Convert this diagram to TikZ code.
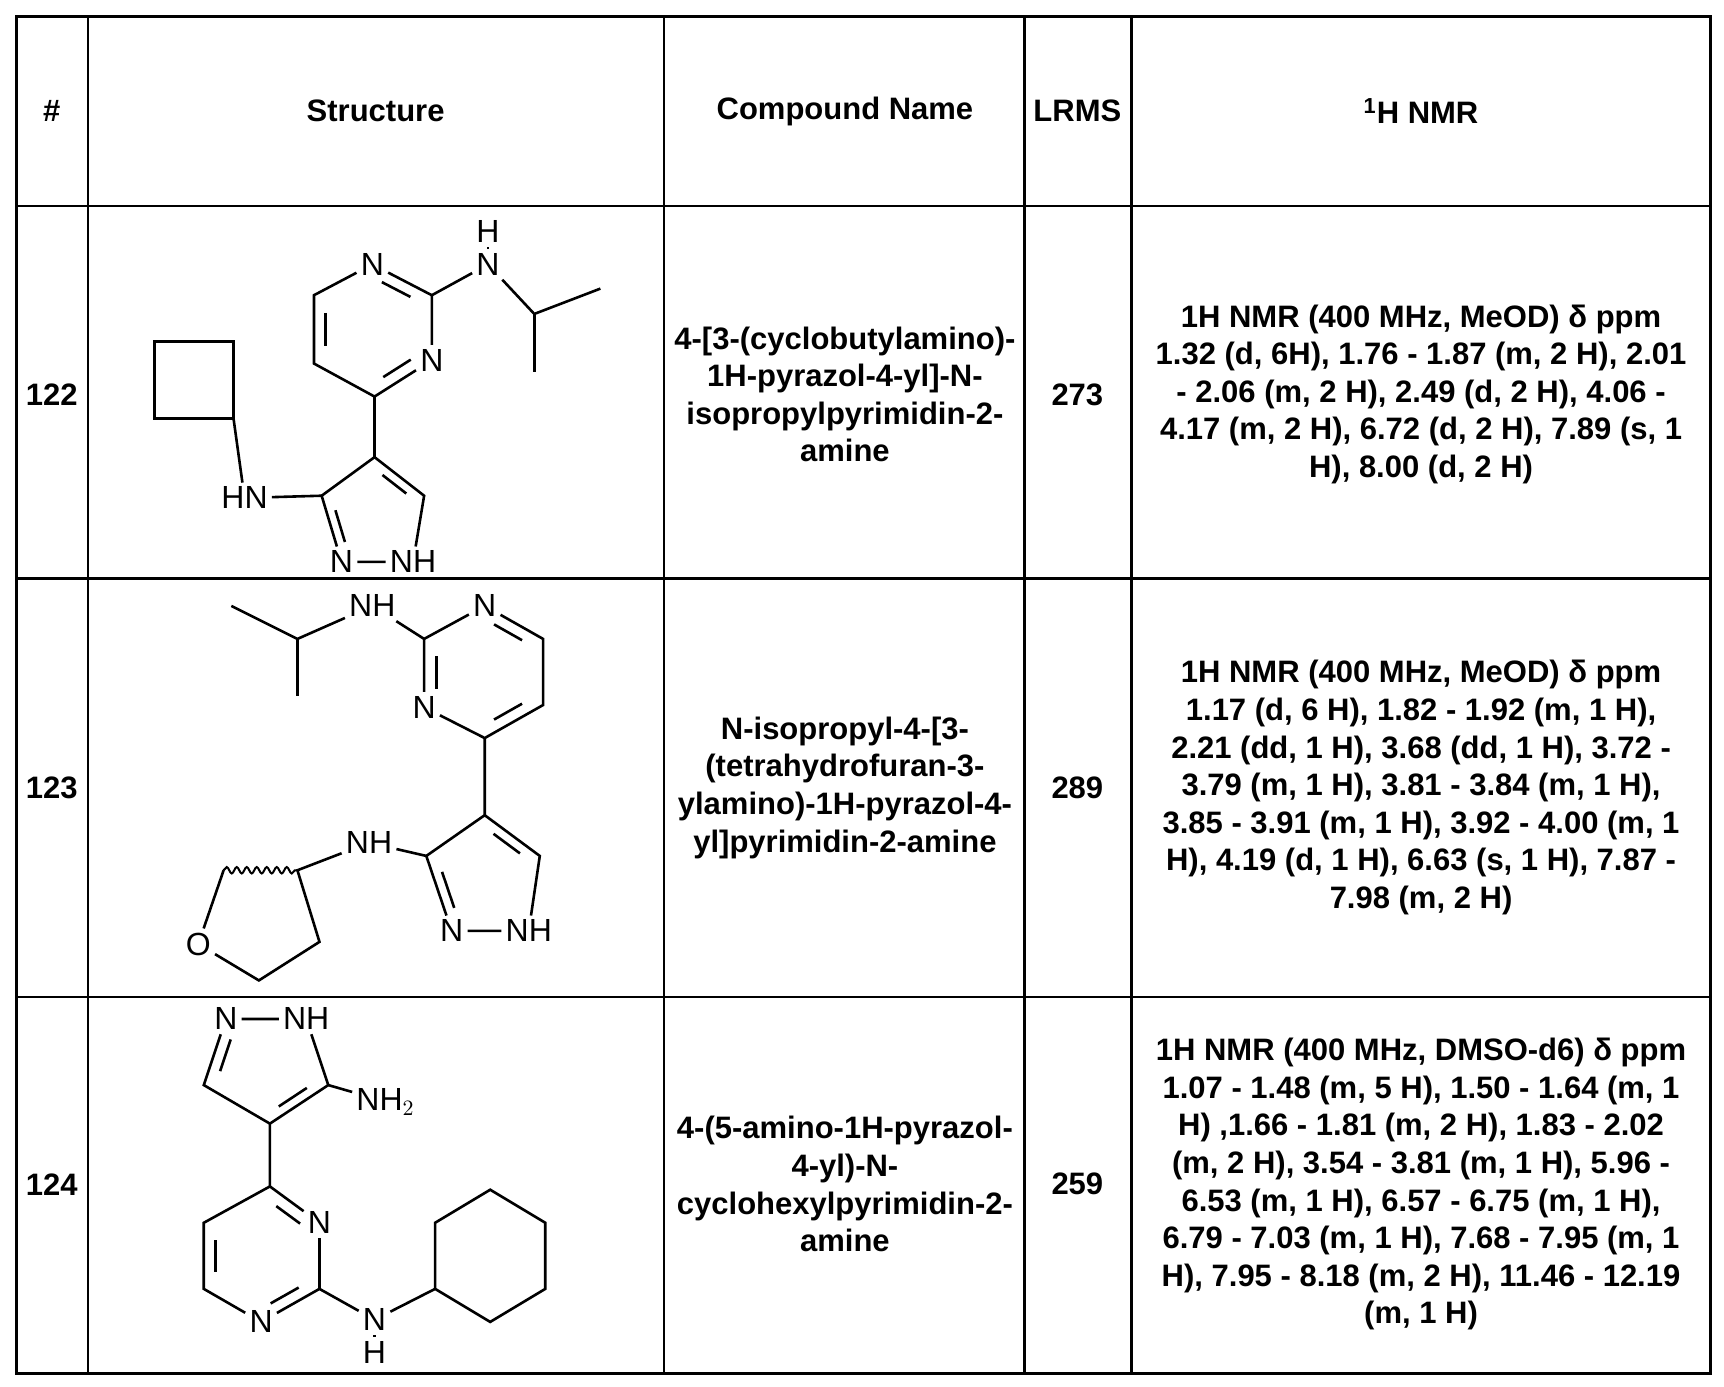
\documentclass[tikz,border=0pt]{standalone}
\usepackage{fontspec}
\setmainfont{Liberation Sans}
\usetikzlibrary{calc,decorations.pathmorphing}
\newcommand{\dbl}[3]{\draw ($(#1)!.2!(#2)!.2!(#3)$) -- ($(#2)!.2!(#1)!.2!(#3)$);}
\begin{document}
\begin{tikzpicture}[x=0.5508pt,y=-0.5508pt,line width=1.3pt,
 atom/.style={inner sep=1.5pt,font=\fontsize{16}{16}\selectfont},
 cell/.style={align=center,font=\bfseries\fontsize{15.5}{18.8}\selectfont,inner sep=0pt},
 hdr/.style={font=\bfseries\fontsize{15.5}{18}\selectfont}]
\useasboundingbox (0,0) rectangle (1565,1259);
% table
\draw[line width=1.6pt] (15,15) rectangle (1553,1247);
\foreach \x in {80,603,930,1027} \draw[line width=1.2pt] (\x,15) -- (\x,1247);
\foreach \y in {187,525,905} \draw[line width=1.2pt] (15,\y) -- (1553,\y);
\node[hdr] (h1) at (47,101) {\#};
\node[hdr] (h2) at (341,101) {Structure};
\node[hdr] (h3) at (767,101) {Compound Name};
\node[hdr] (h4) at (978,101) {LRMS};
\node[hdr] (h5) at (1290,101) {$^{\mathbf 1}$H NMR};
% row 122
\node[cell] (n1) at (47,358) {122};
\node[cell] (c1) at (767,358) {4-[3-(cyclobutylamino)-\\1H-pyrazol-4-yl]-N-\\isopropylpyrimidin-2-\\amine};
\node[cell] (l1) at (978,358) {273};
\node[cell] (r1) at (1290,358) {1H NMR (400 MHz, MeOD) δ ppm\\1.32 (d, 6H), 1.76 - 1.87 (m, 2 H), 2.01\\- 2.06 (m, 2 H), 2.49 (d, 2 H), 4.06 -\\4.17 (m, 2 H), 6.72 (d, 2 H), 7.89 (s, 1\\H), 8.00 (d, 2 H)};
% structure 122
\node[atom] (aN1) at (338,240) {N};
\coordinate (aC6) at (285,268);
\coordinate (aC5) at (285,330);
\coordinate (aC4) at (340,360);
\node[atom] (aN3) at (392,327) {N};
\coordinate (aC2) at (392,268);
\coordinate (actr) at (338,298);
\node[atom] (aNH) at (443,240) {N};
\node[atom] (aH) at (443,210) {H};
\coordinate (aCH) at (485,285);
\coordinate (aMe1) at (545,262);
\coordinate (aMe2) at (485,338);
\draw (aN1) -- (aC6) -- (aC5) -- (aC4) -- (aN3) -- (aC2) -- (aN1);
\dbl{aC6}{aC5}{actr} \dbl{aC2}{aN1}{actr} \dbl{aC4}{aN3}{actr}
\draw (aC2) -- (aNH) -- (aCH) -- (aMe1); \draw (aCH) -- (aMe2); \draw (aNH) -- (aH);
\coordinate (bC4) at (340,415);
\coordinate (bC5) at (385,450);
\node[atom] (bN1) at (375,510) {NH};
\node[atom] (bN2) at (310,510) {N};
\coordinate (bC3) at (292,450);
\coordinate (bctr) at (340,468);
\draw (aC4) -- (bC4) -- (bC5) -- (bN1) -- (bN2) -- (bC3) -- (bC4);
\dbl{bC4}{bC5}{bctr} \dbl{bC3}{bN2}{bctr}
\node[atom] (bHN) at (222,452) {HN};
\draw (bC3) -- (bHN);
\coordinate (q1) at (140,310); \coordinate (q2) at (212,310);
\coordinate (q3) at (212,380); \coordinate (q4) at (140,380);
\draw (q1) -- (q2) -- (q3) -- (q4) -- cycle; \draw (q3) -- (bHN);
% row 123
\node[cell] (n2) at (47,715) {123};
\node[cell] (c2) at (767,715) {N-isopropyl-4-[3-\\(tetrahydrofuran-3-\\ylamino)-1H-pyrazol-4-\\yl]pyrimidin-2-amine};
\node[cell] (l2) at (978,715) {289};
\node[cell] (r2) at (1290,715) {1H NMR (400 MHz, MeOD) δ ppm\\1.17 (d, 6 H), 1.82 - 1.92 (m, 1 H),\\2.21 (dd, 1 H), 3.68 (dd, 1 H), 3.72 -\\3.79 (m, 1 H), 3.81 - 3.84 (m, 1 H),\\3.85 - 3.91 (m, 1 H), 3.92 - 4.00 (m, 1\\H), 4.19 (d, 1 H), 6.63 (s, 1 H), 7.87 -\\7.98 (m, 2 H)};
\node[atom] (cNH) at (338,550) {NH};
\coordinate (cCH) at (270,580); \coordinate (cMe1) at (210,550); \coordinate (cMe2) at (270,632);
\draw (cMe1) -- (cCH) -- (cNH); \draw (cCH) -- (cMe2);
\coordinate (cC2) at (385,580);
\node[atom] (cN1) at (440,550) {N};
\coordinate (cC6) at (493,580); \coordinate (cC5) at (493,640);
\coordinate (cC4) at (440,670);
\node[atom] (cN3) at (385,642) {N};
\coordinate (cctr) at (440,610);
\draw (cNH) -- (cC2) -- (cN1) -- (cC6) -- (cC5) -- (cC4) -- (cN3) -- (cC2);
\dbl{cC2}{cN3}{cctr} \dbl{cN1}{cC6}{cctr} \dbl{cC5}{cC4}{cctr}
\coordinate (dC4) at (440,740); \coordinate (dC5) at (490,777);
\node[atom] (dN1) at (480,845) {NH};
\node[atom] (dN2) at (410,845) {N};
\coordinate (dC3) at (387,777); \coordinate (dctr) at (440,795);
\draw (cC4) -- (dC4) -- (dC5) -- (dN1) -- (dN2) -- (dC3) -- (dC4);
\dbl{dC4}{dC5}{dctr} \dbl{dC3}{dN2}{dctr}
\node[atom] (dNH) at (335,765) {NH};
\draw (dC3) -- (dNH);
\coordinate (t3) at (270,790); \coordinate (t2) at (203,790);
\node[atom] (tO) at (180,857) {O};
\coordinate (t5) at (235,890); \coordinate (t4) at (290,855);
\draw (dNH) -- (t3) -- (t4) -- (t5) -- (tO) -- (t2);
\draw[line width=1pt,decorate,decoration={snake,amplitude=1.6pt,segment length=5pt}] (t2) -- (t3);
% row 124
\node[cell] (n3) at (47,1075) {124};
\node[cell] (c3) at (767,1075) {4-(5-amino-1H-pyrazol-\\4-yl)-N-\\cyclohexylpyrimidin-2-\\amine};
\node[cell] (l3) at (978,1075) {259};
\node[cell] (r3) at (1290,1075) {1H NMR (400 MHz, DMSO-d6) δ ppm\\1.07 - 1.48 (m, 5 H), 1.50 - 1.64 (m, 1\\H) ,1.66 - 1.81 (m, 2 H), 1.83 - 2.02\\(m, 2 H), 3.54 - 3.81 (m, 1 H), 5.96 -\\6.53 (m, 1 H), 6.57 - 6.75 (m, 1 H),\\6.79 - 7.03 (m, 1 H), 7.68 - 7.95 (m, 1\\H), 7.95 - 8.18 (m, 2 H), 11.46 - 12.19\\(m, 1 H)};
\node[atom] (eN1) at (205,925) {N};
\node[atom] (eN2) at (278,925) {NH};
\coordinate (eC5) at (298,985); \coordinate (eC4) at (245,1020); \coordinate (eC3) at (185,985);
\coordinate (ectr) at (243,970);
\draw (eN1) -- (eN2) -- (eC5) -- (eC4) -- (eC3) -- (eN1);
\dbl{eN1}{eC3}{ectr} \dbl{eC4}{eC5}{ectr}
\node[atom] (eNH2) at (350,1000) {NH$_2$};
\draw (eC5) -- (eNH2);
\coordinate (fC4) at (245,1077);
\node[atom] (fN3) at (290,1110) {N};
\coordinate (fC2) at (290,1170);
\node[atom] (fN1) at (237,1200) {N};
\coordinate (fC6) at (185,1170); \coordinate (fC5) at (185,1110);
\coordinate (fctr) at (238,1140);
\draw (eC4) -- (fC4) -- (fN3) -- (fC2) -- (fN1) -- (fC6) -- (fC5) -- (fC4);
\dbl{fC4}{fN3}{fctr} \dbl{fC2}{fN1}{fctr} \dbl{fC6}{fC5}{fctr}
\node[atom] (fNH) at (340,1198) {N};
\node[atom] (fH) at (340,1228) {H};
\draw (fC2) -- (fNH); \draw (fNH) -- (fH);
\coordinate (g1) at (395,1170); \coordinate (g2) at (395,1110); \coordinate (g3) at (445,1080);
\coordinate (g4) at (495,1110); \coordinate (g5) at (495,1170); \coordinate (g6) at (445,1200);
\draw (fNH) -- (g1) -- (g2) -- (g3) -- (g4) -- (g5) -- (g6) -- (g1);
\end{tikzpicture}
\end{document}
